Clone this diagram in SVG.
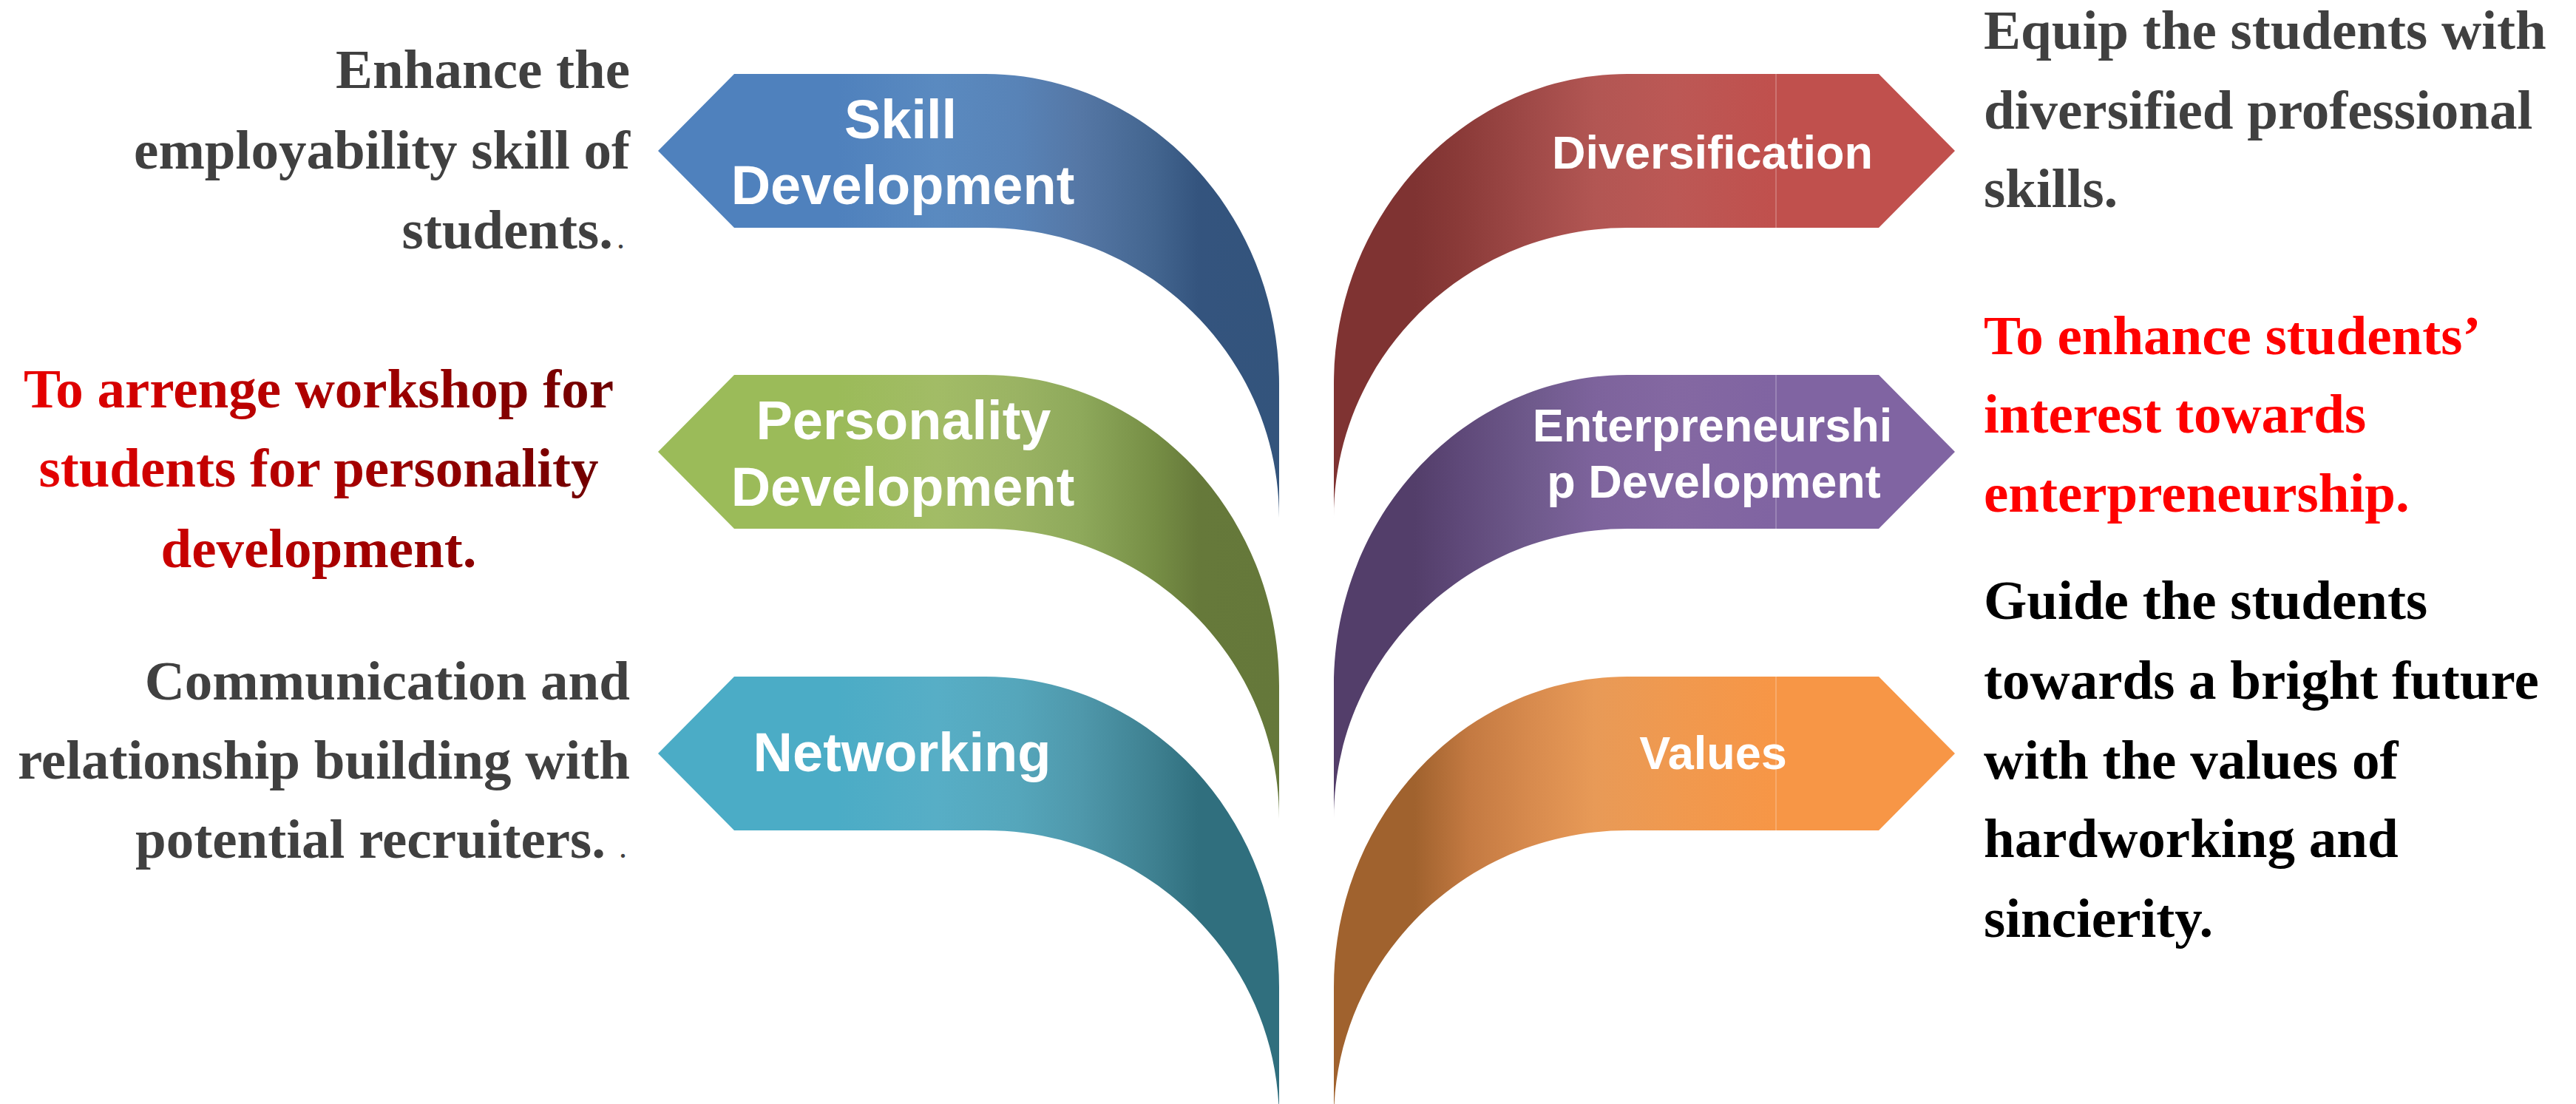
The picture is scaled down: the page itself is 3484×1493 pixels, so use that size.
<svg xmlns="http://www.w3.org/2000/svg" width="3484" height="1493" viewBox="0 0 3484 1493">
<style>
.lbl{font-family:"Liberation Sans",Arial,sans-serif;font-weight:bold;fill:#FFFFFF;text-anchor:middle}
.big{font-size:74px}
.mid{font-size:63px}
.txt{font-family:"Liberation Serif","Times New Roman",serif;font-weight:bold;font-size:75px}
.gray{fill:#404040}
.end{text-anchor:end}
.dot{font-family:"Liberation Serif","Times New Roman",serif;font-size:44px;fill:#404040}
.seam{stroke:#FFFFFF;stroke-opacity:0.28;stroke-width:1.5}
</style>
<defs>
<linearGradient id="gBlue" gradientUnits="userSpaceOnUse" x1="890" y1="0" x2="1730" y2="0">
<stop offset="0" stop-color="#4F81BD"/><stop offset="0.29" stop-color="#4F81BD"/><stop offset="0.45" stop-color="#5A8AC0"/><stop offset="0.58" stop-color="#5883B7"/><stop offset="0.68" stop-color="#5577A5"/><stop offset="0.80" stop-color="#43658F"/><stop offset="0.87" stop-color="#34547E"/><stop offset="1" stop-color="#33547C"/>
</linearGradient>
<linearGradient id="gGreen" gradientUnits="userSpaceOnUse" x1="890" y1="0" x2="1730" y2="0">
<stop offset="0" stop-color="#9BBB59"/><stop offset="0.29" stop-color="#9BBB59"/><stop offset="0.45" stop-color="#A2BC66"/><stop offset="0.58" stop-color="#9AB363"/><stop offset="0.68" stop-color="#8EA95B"/><stop offset="0.80" stop-color="#768E45"/><stop offset="0.87" stop-color="#66793A"/><stop offset="1" stop-color="#65783A"/>
</linearGradient>
<linearGradient id="gTeal" gradientUnits="userSpaceOnUse" x1="890" y1="0" x2="1730" y2="0">
<stop offset="0" stop-color="#4BACC6"/><stop offset="0.29" stop-color="#4BACC6"/><stop offset="0.45" stop-color="#57AEC6"/><stop offset="0.58" stop-color="#55A6BB"/><stop offset="0.68" stop-color="#4F98AB"/><stop offset="0.80" stop-color="#3E8090"/><stop offset="0.87" stop-color="#306F7E"/><stop offset="1" stop-color="#306F7E"/>
</linearGradient>
<linearGradient id="gRed" gradientUnits="userSpaceOnUse" x1="890" y1="0" x2="1730" y2="0">
<stop offset="0" stop-color="#C0504D"/><stop offset="0.29" stop-color="#C0504D"/><stop offset="0.45" stop-color="#BC5855"/><stop offset="0.58" stop-color="#B25653"/><stop offset="0.68" stop-color="#A04A48"/><stop offset="0.80" stop-color="#8A3A38"/><stop offset="0.87" stop-color="#7F3332"/><stop offset="1" stop-color="#7F3332"/>
</linearGradient>
<linearGradient id="gPurple" gradientUnits="userSpaceOnUse" x1="890" y1="0" x2="1730" y2="0">
<stop offset="0" stop-color="#8064A2"/><stop offset="0.29" stop-color="#8064A2"/><stop offset="0.45" stop-color="#8468A2"/><stop offset="0.58" stop-color="#7D639C"/><stop offset="0.68" stop-color="#6F5A8C"/><stop offset="0.80" stop-color="#5E4878"/><stop offset="0.87" stop-color="#533E6A"/><stop offset="1" stop-color="#533E6A"/>
</linearGradient>
<linearGradient id="gOrange" gradientUnits="userSpaceOnUse" x1="890" y1="0" x2="1730" y2="0">
<stop offset="0" stop-color="#F79646"/><stop offset="0.29" stop-color="#F79646"/><stop offset="0.45" stop-color="#F0994F"/><stop offset="0.58" stop-color="#E89A57"/><stop offset="0.68" stop-color="#D88B4E"/><stop offset="0.78" stop-color="#C47A42"/><stop offset="0.87" stop-color="#A0622E"/><stop offset="1" stop-color="#A0622E"/>
</linearGradient>
<linearGradient id="gRedText" gradientUnits="userSpaceOnUse" x1="35" y1="0" x2="830" y2="0">
<stop offset="0" stop-color="#E80000"/><stop offset="1" stop-color="#6E0000"/>
</linearGradient>
</defs>
<rect x="0" y="0" width="3484" height="1493" fill="#FFFFFF"/>

<g id="connectors"></g>

<g id="node-skill">
<path d="M 890,204 L 993,100 L 1333,100 C 1552,100 1730,289 1730,520 L 1730,700 C 1730,483 1552,308 1333,308 L 993,308 Z" fill="url(#gBlue)"/>
<text class="lbl big" x="1218" y="187">Skill</text>
<text class="lbl big" x="1221" y="276">Development</text>
</g>

<g id="node-personality">
<path transform="translate(0,407)" d="M 890,204 L 993,100 L 1333,100 C 1552,100 1730,289 1730,520 L 1730,700 C 1730,483 1552,308 1333,308 L 993,308 Z" fill="url(#gGreen)"/>
<text class="lbl big" x="1222" y="594">Personality</text>
<text class="lbl big" x="1221" y="684">Development</text>
</g>

<g id="node-networking">
<path transform="translate(0,815)" d="M 890,204 L 993,100 L 1333,100 C 1552,100 1730,289 1730,520 L 1730,700 C 1730,483 1552,308 1333,308 L 993,308 Z" fill="url(#gTeal)"/>
<text class="lbl big" x="1220" y="1043">Networking</text>
</g>

<g id="node-diversification">
<g transform="translate(3534,0) scale(-1,1)">
<path d="M 890,204 L 993,100 L 1333,100 C 1552,100 1730,289 1730,520 L 1730,700 C 1730,483 1552,308 1333,308 L 993,308 Z" fill="url(#gRed)"/>
<line class="seam" x1="1132" y1="100" x2="1132" y2="308"/>
</g>
<text class="lbl mid" x="2316" y="228">Diversification</text>
</g>

<g id="node-entrepreneurship">
<g transform="translate(3534,407) scale(-1,1)">
<path d="M 890,204 L 993,100 L 1333,100 C 1552,100 1730,289 1730,520 L 1730,700 C 1730,483 1552,308 1333,308 L 993,308 Z" fill="url(#gPurple)"/>
<line class="seam" x1="1132" y1="100" x2="1132" y2="308"/>
</g>
<text class="lbl mid" x="2316" y="597">Enterpreneurshi</text>
<text class="lbl mid" x="2318" y="673">p Development</text>
</g>

<g id="node-values">
<g transform="translate(3534,815) scale(-1,1)">
<path d="M 890,204 L 993,100 L 1333,100 C 1552,100 1730,289 1730,520 L 1730,700 C 1730,483 1552,308 1333,308 L 993,308 Z" fill="url(#gOrange)"/>
<line class="seam" x1="1132" y1="100" x2="1132" y2="308"/>
</g>
<text class="lbl mid" x="2317" y="1040">Values</text>
</g>

<g id="text-skill">
<text class="txt gray end" x="852" y="119">Enhance the</text>
<text class="txt gray end" x="852" y="228">employability skill of</text>
<text class="txt gray end" x="829" y="336">students.</text>
<text class="dot" x="834" y="336">.</text>
</g>

<g id="text-personality">
<text class="txt" x="431" y="551" text-anchor="middle" fill="url(#gRedText)">To arrenge workshop for</text>
<text class="txt" x="431" y="658" text-anchor="middle" fill="url(#gRedText)">students for personality</text>
<text class="txt" x="431" y="767" text-anchor="middle" fill="url(#gRedText)">development.</text>
</g>

<g id="text-networking">
<text class="txt gray end" x="852" y="946">Communication and</text>
<text class="txt gray end" x="852" y="1053">relationship building with</text>
<text class="txt gray end" x="819" y="1160">potential recruiters.</text>
<text class="dot" x="837" y="1160">.</text>
</g>

<g id="text-diversification">
<text class="txt gray" x="2683" y="66">Equip the students with</text>
<text class="txt gray" x="2683" y="174">diversified professional</text>
<text class="txt gray" x="2683" y="280">skills.</text>
</g>

<g id="text-entrepreneurship">
<text class="txt" x="2683" y="479" fill="#FF0000">To enhance students’</text>
<text class="txt" x="2683" y="585" fill="#FF0000">interest towards</text>
<text class="txt" x="2683" y="692" fill="#FF0000">enterpreneurship.</text>
</g>

<g id="text-values">
<text class="txt" x="2683" y="837" fill="#000000">Guide the students</text>
<text class="txt" x="2683" y="945" fill="#000000">towards a bright future</text>
<text class="txt" x="2683" y="1053" fill="#000000">with the values of</text>
<text class="txt" x="2683" y="1159" fill="#000000">hardworking and</text>
<text class="txt" x="2683" y="1267" fill="#000000">sincierity.</text>
</g>
</svg>
